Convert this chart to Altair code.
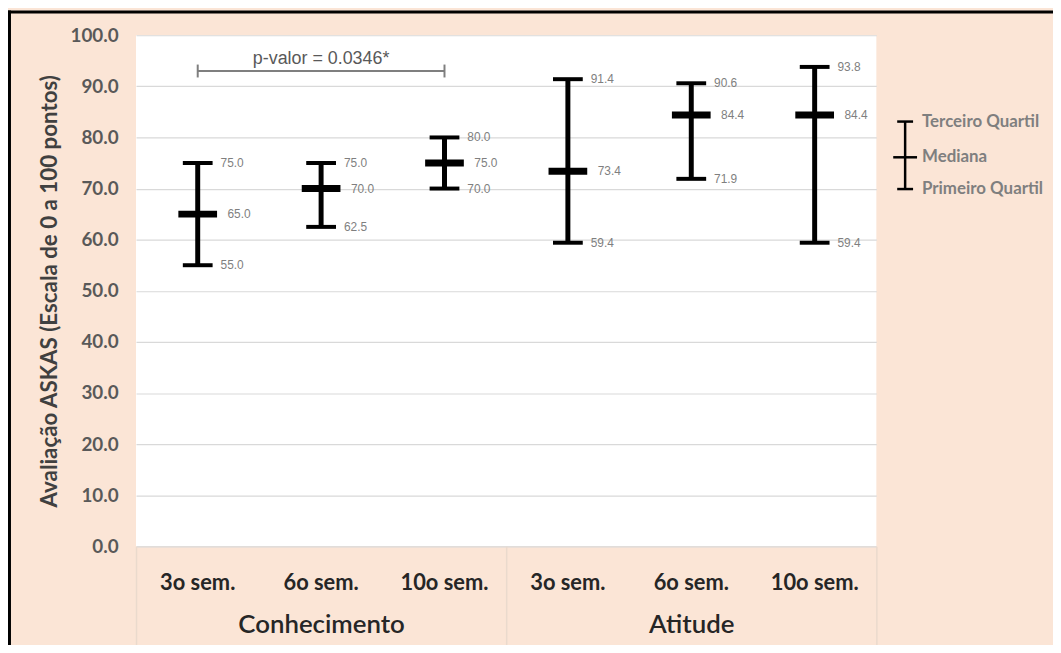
import altair as alt
import pandas as pd

groups = ["Conhecimento", "Conhecimento", "Conhecimento", "Atitude", "Atitude", "Atitude"]
semesters = ["3o sem.", "6o sem.", "10o sem.", "3o sem.", "6o sem.", "10o sem."]
q1 = [55.0, 62.5, 70.0, 59.4, 71.9, 59.4]
median = [65.0, 70.0, 75.0, 73.4, 84.4, 84.4]
q3 = [75.0, 75.0, 80.0, 91.4, 90.6, 93.8]
group_order = ["Conhecimento", "Atitude"]
y_ticks = [0, 10, 20, 30, 40, 50, 60, 70, 80, 90, 100]

pvalue_text = "p-valor = 0.0346*"
pvalue_from = ("Conhecimento", "3o sem.")
pvalue_mid = ("Conhecimento", "6o sem.")
pvalue_to = ("Conhecimento", "10o sem.")
pvalue_y = 93.0

legend_labels = ["Terceiro Quartil", "Mediana", "Primeiro Quartil"]

keys = [g + "|" + s for g, s in zip(groups, semesters)]
df = pd.DataFrame({"key": keys, "group": groups, "sem": semesters,
                   "q1": q1, "median": median, "q3": q3})
df["q1_lbl"] = df["q1"].map(lambda v: f"{v:.1f}")
df["med_lbl"] = df["median"].map(lambda v: f"{v:.1f}")
df["q3_lbl"] = df["q3"].map(lambda v: f"{v:.1f}")

pv = pd.DataFrame({"start": ["|".join(pvalue_from)], "mid": ["|".join(pvalue_mid)],
                   "end": ["|".join(pvalue_to)], "y": [pvalue_y], "label": [pvalue_text]})

W, H = 746, 515
FONT = "Lato"

xscale = alt.Scale(domain=keys, paddingInner=0, paddingOuter=0)
yscale = alt.Scale(domain=[0, 100], nice=False)

X = alt.X("key:N", scale=xscale, title=None,
          axis=alt.Axis(labelExpr="split(datum.label, '|')[1]", labelAngle=0,
                        ticks=False, domain=False, labelPadding=27,
                        labelFontSize=22, labelFontWeight="bold", labelColor="#262626",
                        labelFont=FONT))
Y = alt.Y("q1:Q", scale=yscale,
          title="Avaliação ASKAS  (Escala de 0 a 100 pontos)",
          axis=alt.Axis(values=y_ticks, format=".1f", ticks=False, domain=False,
                        labelPadding=18, labelFontSize=19, labelFontWeight="bold",
                        labelColor="#595959", labelFont=FONT,
                        gridColor="#D9D9D9", gridWidth=1.2,
                        titleFontSize=22.5, titleFontWeight="bold", titleColor="#404040",
                        titleFont=FONT, titlePadding=9))

base = alt.Chart(df)
stem = base.mark_rule(color="black", strokeWidth=5).encode(x=X, y=Y, y2="q3:Q")
tick_kw = dict(color="black", orient="horizontal", opacity=1)
cap_lo = base.mark_tick(size=30, thickness=4, **tick_kw).encode(x="key:N", y=alt.Y("q1:Q"))
cap_hi = base.mark_tick(size=30, thickness=4, **tick_kw).encode(x="key:N", y=alt.Y("q3:Q"))
med = base.mark_tick(size=39, thickness=7, **tick_kw).encode(x="key:N", y=alt.Y("median:Q"))

txt_kw = dict(align="left", baseline="middle", fontSize=12, color="#7F7F7F", font="Liberation Sans")
t_lo = base.mark_text(dx=23, **txt_kw).encode(x="key:N", y="q1:Q", text="q1_lbl:N")
t_hi = base.mark_text(dx=23, **txt_kw).encode(x="key:N", y="q3:Q", text="q3_lbl:N")
t_med = base.mark_text(dx=30, **txt_kw).encode(x="key:N", y="median:Q", text="med_lbl:N")

pb = alt.Chart(pv)
br_line = pb.mark_rule(color="#7F7F7F", strokeWidth=2).encode(x="start:N", x2="end:N", y="y:Q")
br_l = pb.mark_tick(color="#7F7F7F", orient="vertical", size=13, thickness=2, opacity=1).encode(x="start:N", y="y:Q")
br_r = pb.mark_tick(color="#7F7F7F", orient="vertical", size=13, thickness=2, opacity=1).encode(x="end:N", y="y:Q")
br_t = pb.mark_text(dy=-12, fontSize=18, color="#595959", font="Liberation Sans").encode(
    x="mid:N", y="y:Q", text="label:N")

# legend (decoration at the right side)
leg_df = pd.DataFrame({"dummy": [0]})
lg = alt.Chart(leg_df)
LX = 775
leg_stem = lg.mark_rule(color="black", strokeWidth=2.5).encode(
    x=alt.value(LX), y=alt.value(87), y2=alt.value(155))
leg_top = lg.mark_rule(color="black", strokeWidth=2.5).encode(
    x=alt.value(LX - 8), x2=alt.value(LX + 8), y=alt.value(87))
leg_bot = lg.mark_rule(color="black", strokeWidth=2.5).encode(
    x=alt.value(LX - 8), x2=alt.value(LX + 8), y=alt.value(155))
leg_mid = lg.mark_rule(color="black", strokeWidth=2.5).encode(
    x=alt.value(LX - 12), x2=alt.value(LX + 12), y=alt.value(123))
leg_kw = dict(align="left", baseline="middle", fontSize=17, fontWeight="bold", color="#7F7F7F", font=FONT)
leg_t1 = lg.mark_text(text=legend_labels[0], **leg_kw).encode(x=alt.value(LX + 17), y=alt.value(87))
leg_t2 = lg.mark_text(text=legend_labels[1], **leg_kw).encode(x=alt.value(LX + 17), y=alt.value(123))
leg_t3 = lg.mark_text(text=legend_labels[2], **leg_kw).encode(x=alt.value(LX + 17), y=alt.value(155))

# outer frame (top & left edges visible)
frame_top = lg.mark_rule(color="black", strokeWidth=3).encode(
    x=alt.value(-129), x2=alt.value(930), y=alt.value(-23.5))
frame_left = lg.mark_rule(color="black", strokeWidth=3).encode(
    x=alt.value(-127.5), y=alt.value(-25), y2=alt.value(625))

inner = alt.layer(stem, cap_lo, cap_hi, med, t_lo, t_hi, t_med,
                  br_line, br_l, br_r, br_t,
                  leg_stem, leg_top, leg_bot, leg_mid, leg_t1, leg_t2, leg_t3,
                  frame_top, frame_left)

gdf = pd.DataFrame({"group": group_order})
group_layer = alt.Chart(gdf).mark_point(opacity=0).encode(
    x=alt.X("group:N", sort=group_order, title=None,
            scale=alt.Scale(domain=group_order, paddingInner=0, paddingOuter=0),
            axis=alt.Axis(orient="bottom", tickBand="extent", tickSize=100,
                          tickColor="#EADACD", tickWidth=1.5, domain=False, labelAngle=0,
                          labelPadding=-34, labelFontSize=26, labelColor="#262626",
                          labelFont=FONT, labelFontWeight=600)),
    y=alt.value(0))

chart = alt.layer(inner, group_layer).resolve_scale(x="independent").properties(
    width=W, height=H,
    background="#FBE5D6",
    padding={"left": 129, "top": 25, "right": 178, "bottom": 97},
    autosize=alt.AutoSizeParams(type="none"),
).configure_view(fill="white", strokeWidth=0)

chart.save("out.html", embed_options={"renderer": "svg", "actions": False})
